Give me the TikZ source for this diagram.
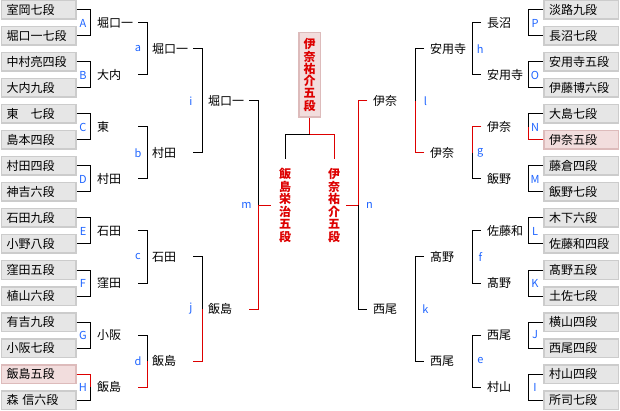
\documentclass[tikz,border=0pt]{standalone}
\usepackage{fontspec}
\setmainfont{Noto Sans CJK JP}
\usetikzlibrary{calc}
\definecolor{BoxFill}{HTML}{E6E6E6}
\definecolor{BoxLine}{HTML}{CCCCCC}
\definecolor{WinFill}{HTML}{F2DDDD}
\definecolor{WinLine}{HTML}{DDBBBB}
\definecolor{WinRed}{HTML}{DD0000}
\definecolor{TagBlue}{HTML}{1E64FF}
\tikzset{
  player/.style={
    draw=BoxLine, fill=BoxFill, line width=1.5pt,
    minimum width=74.5pt, minimum height=18.5pt, text width=64pt,
    align=left, inner xsep=5pt, inner ysep=0pt, font=\fontsize{12}{14}\selectfont
  },
  picked/.style={player, fill=WinFill, draw=WinLine},
  entrant/.style={
    text width=41pt, align=left, inner sep=0pt, font=\fontsize{12}{14}\selectfont
  },
  rentrant/.style={entrant, inner xsep=6pt},
  tag/.style={text=TagBlue, inner sep=0pt, font=\fontsize{11}{13}\selectfont},
  finalist/.style={
    text=WinRed, align=center, inner sep=0pt, font=\fontsize{12}{12.6}\selectfont\bfseries
  },
  bracket/.style={line width=1pt, draw=black},
  win/.style={line width=1pt, draw=WinRed}
}
\begin{document}
\begin{tikzpicture}[x=1pt,y=-1pt]
  \useasboundingbox (0,0) rectangle (620,411);
  % players
  \foreach \p/\s [count=\k] in {室岡七段/player,堀口一七段/player,中村亮四段/player,大内九段/player,
      東　七段/player,島本四段/player,村田四段/player,神吉六段/player,石田九段/player,小野八段/player,
      窪田五段/player,植山六段/player,有吉九段/player,小阪七段/player,飯島五段/picked,森 信六段/player}
    \node[\s] (lp\k) at (38.5,{26*(\k-1)+10}) {\p};
  \foreach \p/\s [count=\k] in {淡路九段/player,長沼七段/player,安用寺五段/player,伊藤博六段/player,
      大島七段/player,伊奈五段/picked,藤倉四段/player,飯野七段/player,木下六段/player,佐藤和四段/player,
      髙野五段/player,土佐七段/player,横山四段/player,西尾四段/player,村山四段/player,所司七段/player}
    \node[\s] (rp\k) at (581,{26*(\k-1)+10}) {\p};
  % left half
  \foreach \w/\t [count=\j] in {堀口一/A,大内/B,東/C,村田/D,石田/E,窪田/F,小阪/G,飯島/H} {
    \pgfmathtruncatemacro\a{2*\j-1}
    \pgfmathtruncatemacro\b{2*\j}
    \draw[bracket] (lp\a.east) -- ++(14,0) |- (lp\b.east);
    \node[tag] (tag\t) at (83,{52*(\j-1)+23}) {\t};
    \node[entrant,anchor=west] (la\j) at (97,{52*(\j-1)+23}) {\w};
  }
  \foreach \w/\t [count=\j] in {堀口一/a,村田/b,石田/c,飯島/d} {
    \pgfmathtruncatemacro\a{2*\j-1}
    \pgfmathtruncatemacro\b{2*\j}
    \draw[bracket] (la\a.east) -- ++(9,0) |- (la\b.east);
    \node[tag] (tag\t) at (138,{104*(\j-1)+49}) {\t};
    \node[entrant,anchor=west] (lb\j) at (152,{104*(\j-1)+49}) {\w};
  }
  \foreach \w/\t [count=\j] in {堀口一/i,飯島/j} {
    \pgfmathtruncatemacro\a{2*\j-1}
    \pgfmathtruncatemacro\b{2*\j}
    \draw[bracket] (lb\a.east) -- ++(9,0) |- (lb\b.east);
    \node[tag] (tag\t) at (191,{208*(\j-1)+101}) {\t};
    \node[entrant,anchor=west] (lc\j) at (208,{208*(\j-1)+101}) {\w};
  }
  \draw[bracket] (lc1.east) -- ++(9,0) |- (lc2.east);
  \node[tag] (tagm) at (246.5,205.5) {m};
  % right half
  \foreach \w/\t [count=\j] in {長沼/P,安用寺/O,伊奈/N,飯野/M,佐藤和/L,髙野/K,西尾/J,村山/I} {
    \pgfmathtruncatemacro\a{2*\j-1}
    \pgfmathtruncatemacro\b{2*\j}
    \draw[bracket] (rp\a.west) -- ++(-15,0) |- (rp\b.west);
    \node[tag] (tag\t) at (535,{52*(\j-1)+23}) {\t};
    \node[rentrant,anchor=west] (ra\j) at (481,{52*(\j-1)+23}) {\w};
  }
  \foreach \w/\t [count=\j] in {安用寺/h,伊奈/g,髙野/f,西尾/e} {
    \pgfmathtruncatemacro\a{2*\j-1}
    \pgfmathtruncatemacro\b{2*\j}
    \draw[bracket] (ra\a.west) -- ++(-9,0) |- (ra\b.west);
    \node[tag] (tag\t) at (480.3,{104*(\j-1)+49}) {\t};
    \node[rentrant,anchor=west] (rb\j) at (424,{104*(\j-1)+49}) {\w};
  }
  \foreach \w/\t [count=\j] in {伊奈/l,西尾/k} {
    \pgfmathtruncatemacro\a{2*\j-1}
    \pgfmathtruncatemacro\b{2*\j}
    \draw[bracket] (rb\a.west) -- ++(-9,0) |- (rb\b.west);
    \node[tag] (tag\t) at (425.5,{208*(\j-1)+101}) {\t};
    \node[rentrant,anchor=west] (rc\j) at (367,{208*(\j-1)+101}) {\w};
  }
  \draw[bracket] (rc1.west) -- ++(-9,0) |- (rc2.west);
  \node[tag] (tagn) at (369.5,205.5) {n};
  % final
  \node[finalist,fill=WinFill,draw=WinLine,line width=1.5pt,minimum width=21.5pt,
    minimum height=84.5pt,font=\fontsize{12}{12.3}\selectfont\bfseries] (champ) at (309.5,75)
    {伊\\奈\\祐\\介\\五\\段};
  \node[finalist] (fL) at (285,205.5) {飯\\島\\栄\\治\\五\\段};
  \node[finalist] (fR) at (334,205.5) {伊\\奈\\祐\\介\\五\\段};
  \draw[win] (champ.south) -- ++(0,17) coordinate (fork);
  \draw[bracket,shorten >=9pt] (fork) -| (fL.north);
  \draw[win,shorten >=9pt] (fork) -| (fR.north);
  % red paths of the finalists
  \draw[win] (lp15.east) -- ++(14,0) coordinate (vH) -- (vH |- la8.west);
  \draw[win] (la8.east) -- ++(9,0) coordinate (vd) -- (vd |- lb4.west);
  \draw[win] (lb4.east) -- ++(9,0) coordinate (vj) -- (vj |- lc2.west);
  \draw[win] (lc2.east) -- ++(9,0) coordinate (vm) -- (vm |- fL.west);
  \draw[win,shorten >=8pt] (vm |- fL.west) -- (fL.west);
  \draw[win] (rp6.west) -- ++(-15,0) coordinate (vN) -- (vN |- ra3.west);
  \draw[win] (ra3.west) -- ++(-9,0) coordinate (vg) -- (vg |- rb2.west);
  \draw[win] (rb2.west) -- ++(-9,0) coordinate (vl) -- (vl |- rc1.west);
  \draw[win] (rc1.west) -- ++(-9,0) coordinate (vn) -- (vn |- fR.east);
  \draw[win,shorten >=6pt] (vn |- fR.east) -- (fR.east);
\end{tikzpicture}
\end{document}
